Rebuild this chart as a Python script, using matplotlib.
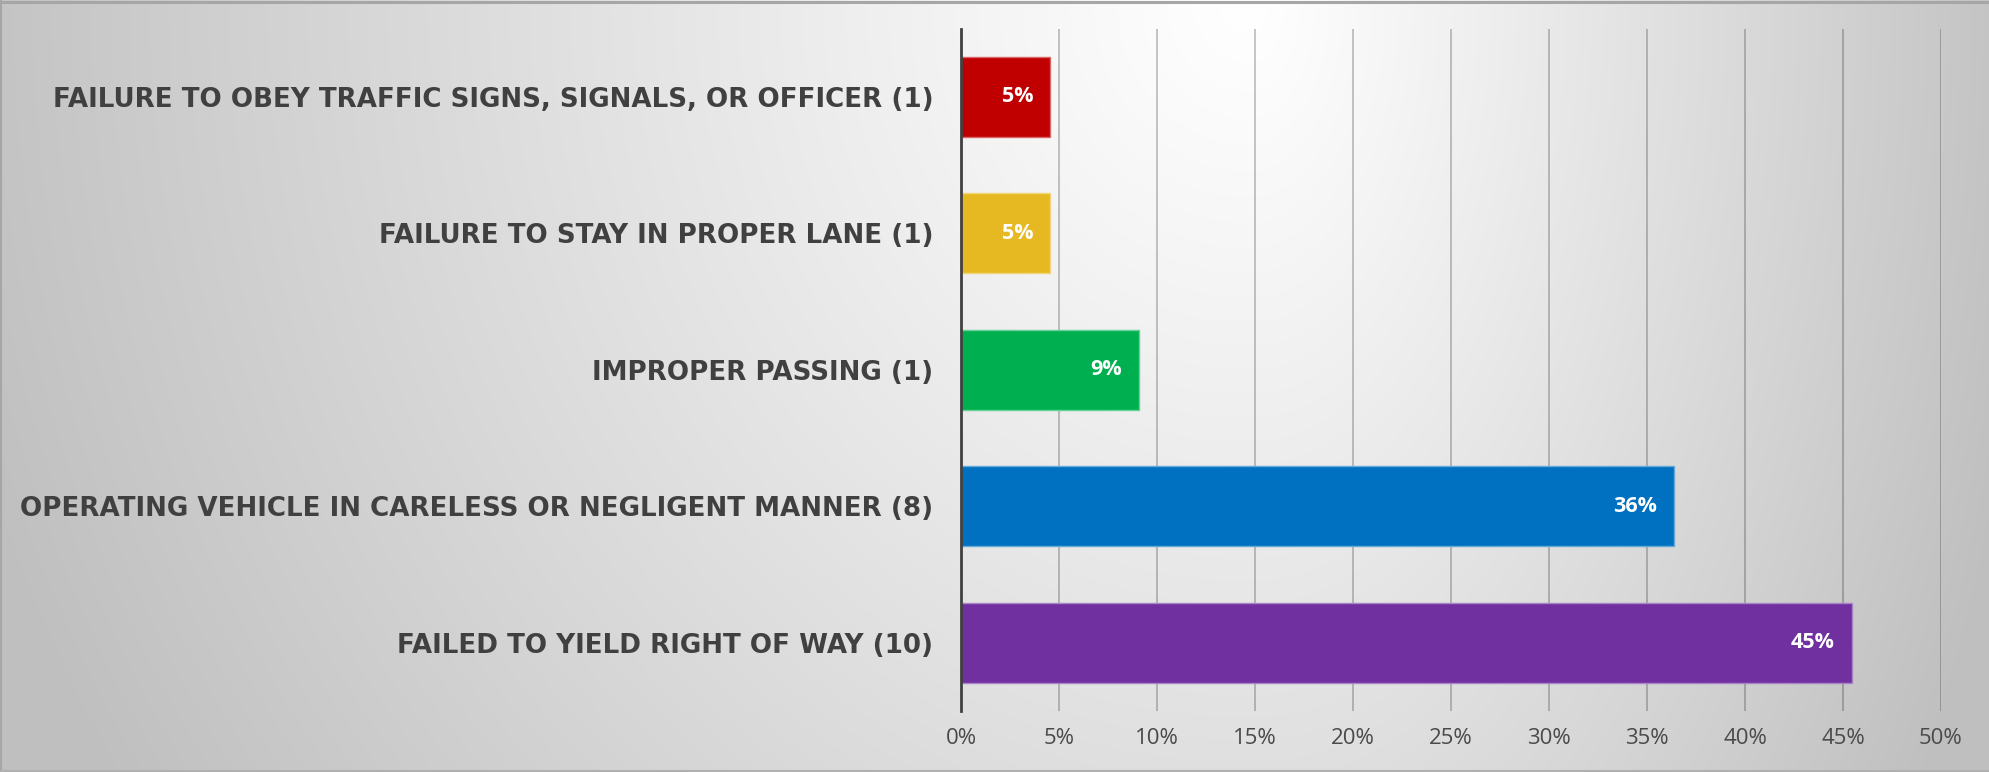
import numpy as np
import matplotlib
matplotlib.use("Agg")
import matplotlib.pyplot as plt
from matplotlib.colors import to_rgb

categories = [
    "FAILURE TO OBEY TRAFFIC SIGNS, SIGNALS, OR OFFICER (1)",
    "FAILURE TO STAY IN PROPER LANE (1)",
    "IMPROPER PASSING (1)",
    "OPERATING VEHICLE IN CARELESS OR NEGLIGENT MANNER (8)",
    "FAILED TO YIELD RIGHT OF WAY (10)",
]
values = [4.55, 4.55, 9.09, 36.36, 45.45]
value_labels = ["5%", "5%", "9%", "36%", "45%"]
colors = ["#C00000", "#E6B923", "#00B050", "#0070C0", "#7030A0"]
xticks = [0, 5, 10, 15, 20, 25, 30, 35, 40, 45, 50]
xtick_labels = [f"{t}%" for t in xticks]

W, H, DPI = 1990, 772, 100
fig = plt.figure(figsize=(W / DPI, H / DPI), dpi=DPI)

# background gradient
bg = fig.add_axes([0, 0, 1, 1], zorder=-10)
xx, yy = np.meshgrid(np.arange(W), np.arange(H))
cx, cy = 1250.0, 0.0
sx = np.where(xx < cx, 1250.0, 740.0)
sy = 1360.0
d = np.sqrt(((xx - cx) / sx) ** 2 + ((yy - cy) / sy) ** 2)
v = 1.0 - 0.23 * np.clip(d, 0, 1.1) ** 1.1
v = np.clip(v, 0.75, 1.0)
img = np.dstack([v, v, v])
bg.imshow(img, extent=[0, W, H, 0], aspect="auto", interpolation="bilinear")
bg.set_xlim(0, W)
bg.set_ylim(H, 0)
bg.axis("off")
# border
bg.plot([1, 1], [0, H], color="#a6a6a6", lw=1.5)
bg.plot([0, W], [1.5, 1.5], color="#a6a6a6", lw=2.2)
bg.plot([0, W], [H - 1.5, H - 1.5], color="#b0b0b0", lw=1.5)

left = 961 / W
right = 1941 / W
bottom = 1 - 711 / H
top = 1 - 28.5 / H
ax = fig.add_axes([left, bottom, right - left, top - bottom])
ax.set_facecolor("none")

y = np.arange(len(categories))


def lighten(c, f=0.4):
    r = np.array(to_rgb(c))
    return tuple(r + (1 - r) * f)


bars = ax.barh(y, values, height=0.587, color=colors,
               edgecolor=[lighten(c) for c in colors], linewidth=1.0, zorder=3)

ax.set_xlim(0, 50)
ax.set_ylim(len(categories) - 0.5, -0.5)
ax.set_xticks(xticks)
ax.set_xticklabels(xtick_labels)
ax.set_yticks(y)
ax.set_yticklabels(categories)

ax.grid(axis="x", color="black", alpha=0.22, lw=1.4, zorder=1)
ax.grid(axis="y", visible=False)
ax.set_axisbelow(True)

for s in ["top", "right", "bottom"]:
    ax.spines[s].set_visible(False)
ax.spines["left"].set_color("#404040")
ax.spines["left"].set_linewidth(2.0)
ax.spines["left"].set_zorder(4)

ax.tick_params(axis="y", length=0, pad=20)
ax.tick_params(axis="x", length=0, pad=12)
for lab in ax.get_yticklabels():
    lab.set_fontfamily(["DejaVu Sans"])
    lab.set_fontweight("bold")
    lab.set_fontsize(18.8)
    lab.set_color("#404040")
for lab in ax.get_xticklabels():
    lab.set_fontfamily(["Open Sans", "DejaVu Sans"])
    lab.set_fontsize(16)
    lab.set_color("#4a4a4a")

for b, txt in zip(bars, value_labels):
    ax.annotate(txt, xy=(b.get_width(), b.get_y() + b.get_height() / 2),
                xytext=(-17, 0), textcoords="offset pixels",
                ha="right", va="center", color="white",
                fontsize=15.5, fontweight="bold",
                family=["Open Sans", "DejaVu Sans"], zorder=5)

fig.savefig("out.png", dpi=DPI)
